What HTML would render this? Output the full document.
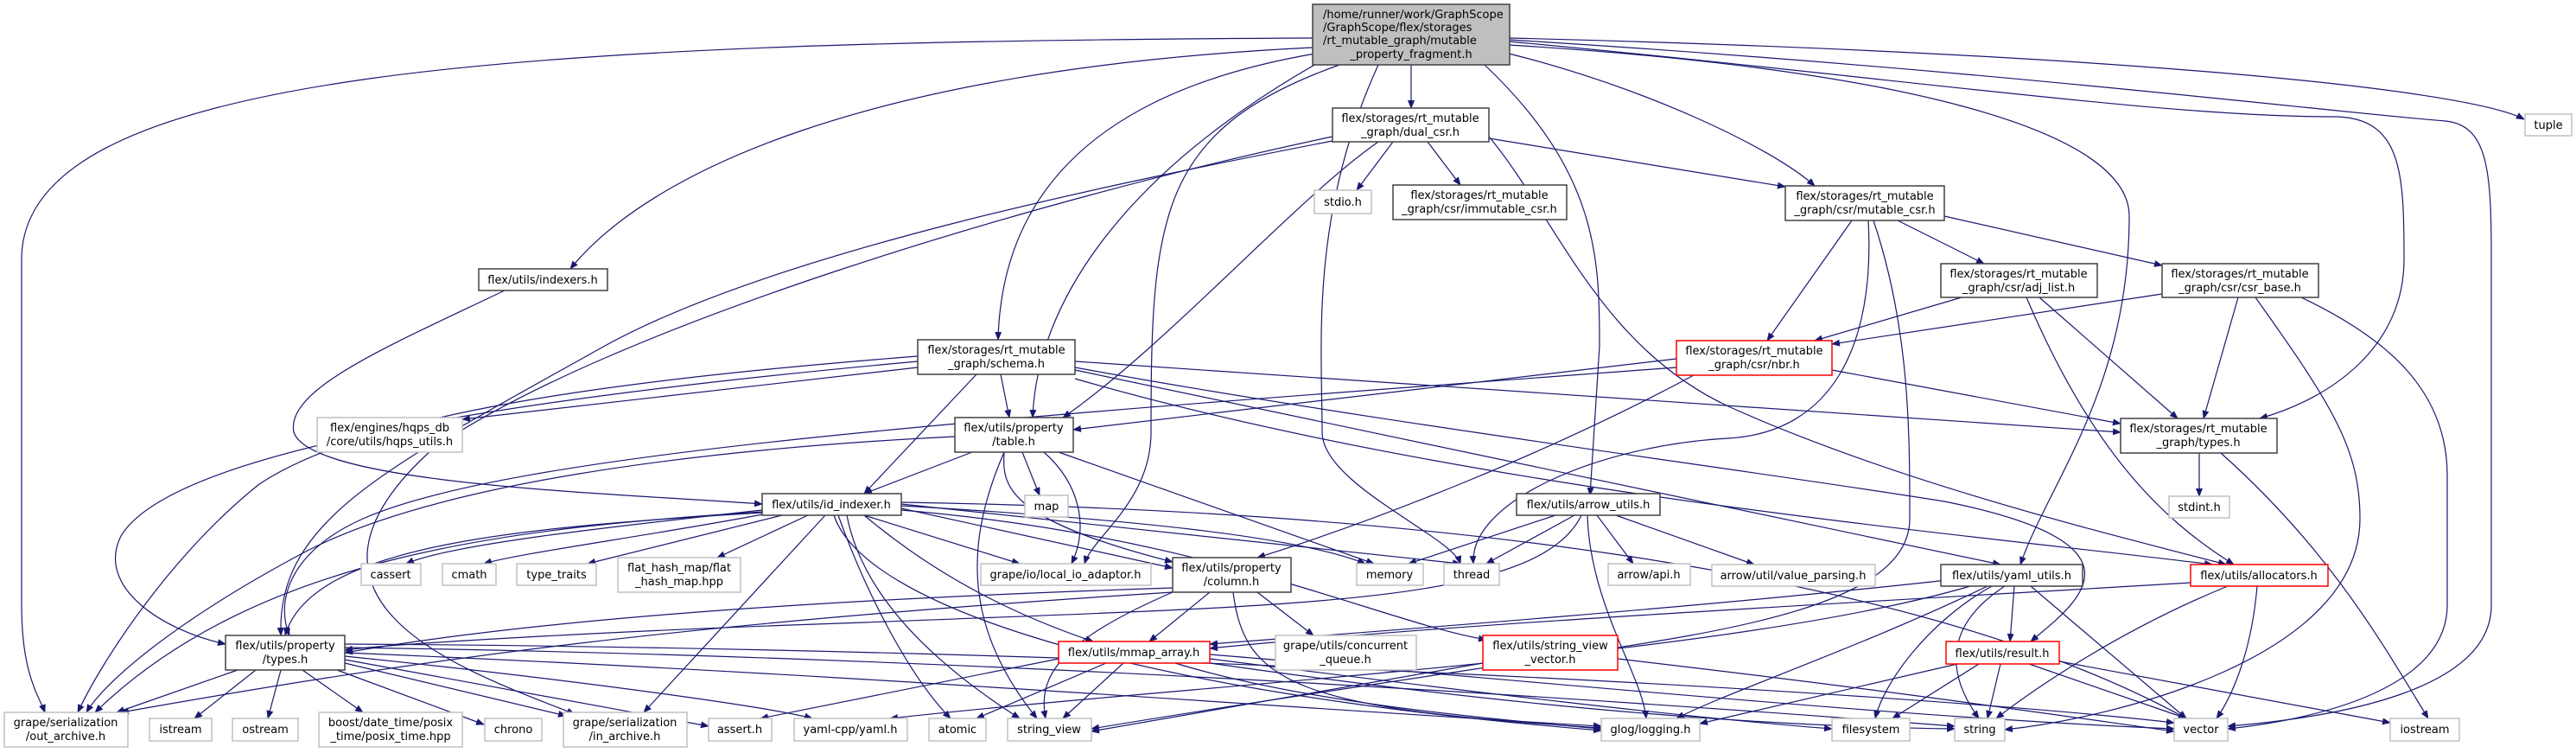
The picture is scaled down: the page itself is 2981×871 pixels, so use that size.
<!DOCTYPE html>
<html><head><meta charset="utf-8"><style>
html,body{margin:0;padding:0;background:#fff;}
svg{display:block;}
text{font-family:"DejaVu Sans","Liberation Sans",sans-serif;font-size:13px;fill:#000;}
.e{fill:none;stroke:#191970;stroke-width:1.2;}
.b{fill:#fff;stroke:#404040;stroke-width:1.5;}
.g{fill:#fff;stroke:#c0c0c0;stroke-width:1.5;}
.r{fill:#fff;stroke:#ff0000;stroke-width:1.5;}
</style></head><body>
<svg width="2981" height="871" viewBox="0 0 2981 871" xmlns="http://www.w3.org/2000/svg">
<defs><marker id="a" markerWidth="10" markerHeight="8" refX="9" refY="4" orient="auto" markerUnits="userSpaceOnUse"><path d="M0,0 L10,4 L0,8 z" fill="#191970"/></marker></defs>
<g class="e" marker-end="url(#a)">
<!-- main -->
<path d="M1519,44 C600,48 25,80 25,300 L25,700 C25,780 45,805 52,824"/>
<path d="M1519,55 C1000,80 750,200 660,311"/>
<path d="M1522,62 C1300,100 1160,200 1155,393"/>
<path d="M1530,70 C1300,200 1200,350 1195,483"/>
<path d="M1550,75 C1340,150 1332,250 1332,500 C1332,580 1265,620 1255,652"/>
<path d="M1595,75 C1515,250 1530,400 1530,500 C1530,560 1680,620 1690,652"/>
<path d="M1633,75 L1633,125"/>
<path d="M1718,75 C1850,200 1851,300 1851,400 L1840,573"/>
<path d="M1746,52 C2200,80 2464,150 2464,250 C2464,450 2370,560 2338,653"/>
<path d="M1746,62 C1900,100 2050,170 2100,215"/>
<path d="M1746,48 C2200,90 2500,135 2700,135 C2780,135 2782,200 2782,300 C2782,400 2700,460 2615,484"/>
<path d="M1746,46 C2300,80 2700,130 2830,140 C2880,145 2883,200 2883,300 L2883,700 C2883,800 2700,830 2578,840"/>
<path d="M1746,44 C2400,60 2850,100 2921,138"/>
<!-- dual -->
<path d="M1612,164 L1570,220"/>
<path d="M1652,164 L1690,214"/>
<path d="M1723,160 L2066,216"/>
<path d="M1595,164 C1500,230 1350,400 1230,483"/>
<path d="M1542,163 C1300,210 900,290 700,400 C450,540 320,600 325,735"/>
<path d="M1542,158 C1200,230 700,380 500,520 C300,700 550,780 665,826"/>
<path d="M1723,158 C1800,250 1850,400 2000,470 C2200,560 2450,620 2576,653"/>
<!-- mutable_csr -->
<path d="M2143,255 L2045,394"/>
<path d="M2196,255 L2296,305"/>
<path d="M2250,250 L2502,307"/>
<path d="M2162,255 C2170,400 2120,500 2000,507 C1850,515 1700,580 1705,652"/>
<path d="M2168,255 C2210,380 2210,500 2210,600 C2210,700 2000,730 1800,760 C1600,790 1400,820 1263,843"/>
<!-- adj_list -->
<path d="M2270,344 L2100,394"/>
<path d="M2360,344 L2520,484"/>
<path d="M2345,344 C2420,520 2500,600 2585,653"/>
<!-- csr_base -->
<path d="M2502,340 L2120,398"/>
<path d="M2590,344 L2550,484"/>
<path d="M2610,344 C2700,470 2731,520 2731,600 C2731,760 2450,830 2320,844"/>
<path d="M2663,344 C2760,390 2832,450 2832,550 L2832,700 C2832,790 2700,830 2578,843"/>
<!-- nbr -->
<path d="M1940,415 L1242,497"/>
<path d="M1960,434 C1800,520 1600,600 1455,645"/>
<path d="M2120,428 L2454,490"/>
<path d="M1940,425 C1200,480 600,520 420,600 C330,640 320,700 335,735"/>
<!-- schema -->
<path d="M1062,425 L535,485"/>
<path d="M1158,433 L1168,483"/>
<path d="M1130,433 L1000,571"/>
<path d="M1062,418 C600,460 200,520 140,620 C110,680 190,730 261,745"/>
<path d="M1062,412 C700,440 420,480 300,560 C200,640 120,760 90,824"/>
<path d="M1244,418 L2454,500"/>
<path d="M1244,428 L2315,653"/>
<path d="M1244,425 C1600,490 2000,540 2250,580 C2500,630 2400,700 2350,742"/>
<path d="M1244,438 C1700,570 2300,620 2560,653"/>
<!-- indexers -->
<path d="M584,336 C450,400 330,450 340,500 C360,560 700,570 882,583"/>
<!-- table -->
<path d="M1125,523 L1000,571"/>
<path d="M1183,523 L1203,573"/>
<path d="M1208,523 C1250,560 1260,610 1240,652"/>
<path d="M1162,523 C1160,560 1160,600 1357,650"/>
<path d="M1225,523 L1590,652"/>
<path d="M1162,523 C1120,620 1110,720 1200,831"/>
<path d="M1105,505 C800,520 500,560 350,640 C200,720 120,790 100,824"/>
<!-- id_indexer -->
<path d="M882,590 C700,610 520,630 470,652"/>
<path d="M888,594 C750,620 600,640 560,652"/>
<path d="M905,596 L680,652"/>
<path d="M935,596 L830,645"/>
<path d="M882,593 C600,610 360,630 330,735"/>
<path d="M882,592 C600,610 300,640 110,824"/>
<path d="M955,596 L745,824"/>
<path d="M1000,596 L1180,652"/>
<path d="M1043,588 L1357,657"/>
<path d="M1043,585 C1300,600 1500,620 1580,652"/>
<path d="M1043,583 L1690,652"/>
<path d="M1000,596 C1100,680 1200,720 1265,742"/>
<path d="M980,596 C1000,700 1100,780 1180,831"/>
<path d="M1043,590 C1400,620 1600,720 1720,740"/>
<path d="M965,596 C1000,700 1300,800 1853,845"/>
<path d="M970,596 C1000,680 1050,780 1100,831"/>
<path d="M1043,581 C1600,590 2200,650 2530,831"/>
<!-- column -->
<path d="M1357,680 C900,695 600,720 399,755"/>
<path d="M1357,685 C800,720 500,760 140,824"/>
<path d="M1400,685 L1330,742"/>
<path d="M1455,685 L1520,735"/>
<path d="M1357,685 C1230,740 1200,780 1210,831"/>
<path d="M1427,685 C1440,790 1500,820 1853,842"/>
<!-- arrow_utils -->
<path d="M1800,596 L1630,652"/>
<path d="M1822,596 L1720,652"/>
<path d="M1848,596 L1890,652"/>
<path d="M1870,596 L2030,653"/>
<path d="M1837,596 C1840,700 1900,780 1905,831"/>
<path d="M1830,596 C1780,700 1500,700 1000,720 C700,730 450,745 399,752"/>
<!-- yaml_utils -->
<path d="M2331,678 L2326,742"/>
<path d="M2320,678 C2240,730 2260,790 2290,831"/>
<path d="M2350,678 L2530,831"/>
<path d="M2305,678 C2230,720 2180,790 2170,831"/>
<path d="M2300,678 C2150,750 2000,800 1940,831"/>
<path d="M2280,678 C2000,760 1400,790 1030,831"/>
<path d="M2280,668 C2000,700 1600,730 1400,745"/>
<!-- allocators -->
<path d="M2535,674 C2100,700 1700,720 1400,750"/>
<path d="M2578,678 C2450,730 2350,800 2310,831"/>
<path d="M2612,678 C2605,760 2580,810 2565,831"/>
<!-- rtypes -->
<path d="M2545,524 L2545,574"/>
<path d="M2570,524 C2700,640 2760,750 2810,831"/>
<!-- mmap -->
<path d="M1280,767 L1130,831"/>
<path d="M1300,767 L1230,831"/>
<path d="M1360,767 C1500,810 1700,830 1853,843"/>
<path d="M1225,762 L880,831"/>
<path d="M1400,762 C1700,800 1950,830 2120,843"/>
<path d="M1400,767 C1700,810 2000,840 2262,843"/>
<path d="M1400,757 C1800,790 2200,830 2516,843"/>
<!-- svv -->
<path d="M1716,767 L1263,846"/>
<path d="M1872,762 C2200,800 2400,830 2516,846"/>
<!-- result -->
<path d="M2265,768 L1967,837"/>
<path d="M2290,768 L2190,831"/>
<path d="M2315,768 L2300,831"/>
<path d="M2348,768 L2530,831"/>
<path d="M2383,765 L2766,836"/>
<!-- ptypes -->
<path d="M275,775 L135,824"/>
<path d="M296,775 L225,831"/>
<path d="M325,775 L310,831"/>
<path d="M350,775 L420,824"/>
<path d="M390,775 L560,838"/>
<path d="M399,767 L655,828"/>
<path d="M399,763 L820,840"/>
<path d="M399,759 C700,790 900,820 940,831"/>
<path d="M399,755 C1000,780 1500,820 1853,840"/>
<path d="M399,749 C1200,760 2000,820 2262,840"/>
<path d="M399,745 C1300,750 2200,800 2516,836"/>
</g>
<!-- nodes -->
<rect x="1519" y="5" width="228" height="70" fill="#bfbfbf" stroke="#404040" stroke-width="1.5"/>
<text x="1531" y="21">/home/runner/work/GraphScope</text>
<text x="1531" y="36">/GraphScope/flex/storages</text>
<text x="1531" y="51">/rt_mutable_graph/mutable</text>
<text x="1633" y="67" text-anchor="middle">_property_fragment.h</text>

<g text-anchor="middle">
<rect class="b" x="1542" y="125" width="181" height="39"/><text x="1632" y="141">flex/storages/rt_mutable</text><text x="1632" y="157">_graph/dual_csr.h</text>
<rect class="g" x="1521" y="220" width="66" height="27"/><text x="1554" y="238">stdio.h</text>
<rect class="b" x="1612" y="214" width="201" height="40"/><text x="1712" y="230">flex/storages/rt_mutable</text><text x="1712" y="246">_graph/csr/immutable_csr.h</text>
<rect class="b" x="2066" y="215" width="184" height="40"/><text x="2158" y="231">flex/storages/rt_mutable</text><text x="2158" y="247">_graph/csr/mutable_csr.h</text>
<rect class="g" x="2922" y="132" width="54" height="25"/><text x="2949" y="149">tuple</text>
<rect class="b" x="554" y="311" width="149" height="25"/><text x="628" y="328">flex/utils/indexers.h</text>
<rect class="b" x="2246" y="305" width="181" height="39"/><text x="2336" y="321">flex/storages/rt_mutable</text><text x="2336" y="337">_graph/csr/adj_list.h</text>
<rect class="b" x="2502" y="305" width="181" height="39"/><text x="2592" y="321">flex/storages/rt_mutable</text><text x="2592" y="337">_graph/csr/csr_base.h</text>
<rect class="b" x="1062" y="393" width="182" height="40"/><text x="1153" y="409">flex/storages/rt_mutable</text><text x="1153" y="425">_graph/schema.h</text>
<rect class="r" x="1940" y="394" width="180" height="40"/><text x="2030" y="410">flex/storages/rt_mutable</text><text x="2030" y="426">_graph/csr/nbr.h</text>
<rect class="g" x="367" y="483" width="168" height="40"/><text x="451" y="499">flex/engines/hqps_db</text><text x="451" y="515">/core/utils/hqps_utils.h</text>
<rect class="b" x="1105" y="483" width="137" height="40"/><text x="1173" y="499">flex/utils/property</text><text x="1173" y="515">/table.h</text>
<rect class="b" x="2454" y="484" width="181" height="40"/><text x="2544" y="500">flex/storages/rt_mutable</text><text x="2544" y="516">_graph/types.h</text>
<rect class="b" x="882" y="571" width="161" height="25"/><text x="962" y="588">flex/utils/id_indexer.h</text>
<rect class="g" x="1186" y="573" width="50" height="25"/><text x="1211" y="590">map</text>
<rect class="b" x="1755" y="571" width="166" height="25"/><text x="1838" y="588">flex/utils/arrow_utils.h</text>
<rect class="g" x="2510" y="574" width="70" height="25"/><text x="2545" y="591">stdint.h</text>

<rect class="g" x="418" y="652" width="69" height="25"/><text x="452" y="669">cassert</text>
<rect class="g" x="512" y="652" width="62" height="25"/><text x="543" y="669">cmath</text>
<rect class="g" x="598" y="652" width="92" height="25"/><text x="644" y="669">type_traits</text>
<rect class="g" x="715" y="645" width="142" height="40"/><text x="786" y="661">flat_hash_map/flat</text><text x="786" y="677">_hash_map.hpp</text>
<rect class="g" x="1135" y="652" width="197" height="25"/><text x="1233" y="669">grape/io/local_io_adaptor.h</text>
<rect class="b" x="1357" y="645" width="137" height="40"/><text x="1425" y="661">flex/utils/property</text><text x="1425" y="677">/column.h</text>
<rect class="g" x="1570" y="652" width="77" height="25"/><text x="1608" y="669">memory</text>
<rect class="g" x="1671" y="652" width="64" height="25"/><text x="1703" y="669">thread</text>
<rect class="g" x="1861" y="652" width="95" height="25"/><text x="1908" y="669">arrow/api.h</text>
<rect class="g" x="1981" y="653" width="189" height="25"/><text x="2075" y="670">arrow/util/value_parsing.h</text>
<rect class="b" x="2246" y="653" width="164" height="25"/><text x="2328" y="670">flex/utils/yaml_utils.h</text>
<rect class="r" x="2535" y="653" width="159" height="25"/><text x="2614" y="670">flex/utils/allocators.h</text>

<rect class="b" x="261" y="735" width="138" height="40"/><text x="330" y="751">flex/utils/property</text><text x="330" y="767">/types.h</text>
<rect class="r" x="1225" y="742" width="175" height="25"/><text x="1312" y="759">flex/utils/mmap_array.h</text>
<rect class="g" x="1476" y="735" width="163" height="40"/><text x="1557" y="751">grape/utils/concurrent</text><text x="1557" y="767">_queue.h</text>
<rect class="r" x="1716" y="735" width="156" height="40"/><text x="1794" y="751">flex/utils/string_view</text><text x="1794" y="767">_vector.h</text>
<rect class="r" x="2252" y="742" width="131" height="26"/><text x="2317" y="760">flex/utils/result.h</text>

<rect class="g" x="5" y="824" width="143" height="40"/><text x="76" y="840">grape/serialization</text><text x="76" y="856">/out_archive.h</text>
<rect class="g" x="173" y="831" width="72" height="26"/><text x="209" y="848">istream</text>
<rect class="g" x="269" y="831" width="76" height="26"/><text x="307" y="848">ostream</text>
<rect class="g" x="369" y="824" width="166" height="40"/><text x="452" y="840">boost/date_time/posix</text><text x="452" y="856">_time/posix_time.hpp</text>
<rect class="g" x="561" y="831" width="66" height="26"/><text x="594" y="848">chrono</text>
<rect class="g" x="652" y="824" width="143" height="40"/><text x="723" y="840">grape/serialization</text><text x="723" y="856">/in_archive.h</text>
<rect class="g" x="820" y="831" width="73" height="26"/><text x="856" y="848">assert.h</text>
<rect class="g" x="919" y="831" width="131" height="26"/><text x="984" y="848">yaml-cpp/yaml.h</text>
<rect class="g" x="1075" y="831" width="66" height="26"/><text x="1108" y="848">atomic</text>
<rect class="g" x="1166" y="831" width="97" height="26"/><text x="1214" y="848">string_view</text>
<rect class="g" x="1853" y="831" width="114" height="26"/><text x="1910" y="848">glog/logging.h</text>
<rect class="g" x="2120" y="831" width="90" height="26"/><text x="2165" y="848">filesystem</text>
<rect class="g" x="2262" y="831" width="58" height="26"/><text x="2291" y="848">string</text>
<rect class="g" x="2516" y="831" width="62" height="26"/><text x="2547" y="848">vector</text>
<rect class="g" x="2766" y="831" width="80" height="26"/><text x="2806" y="848">iostream</text>
</g>
</svg>
</body></html>
